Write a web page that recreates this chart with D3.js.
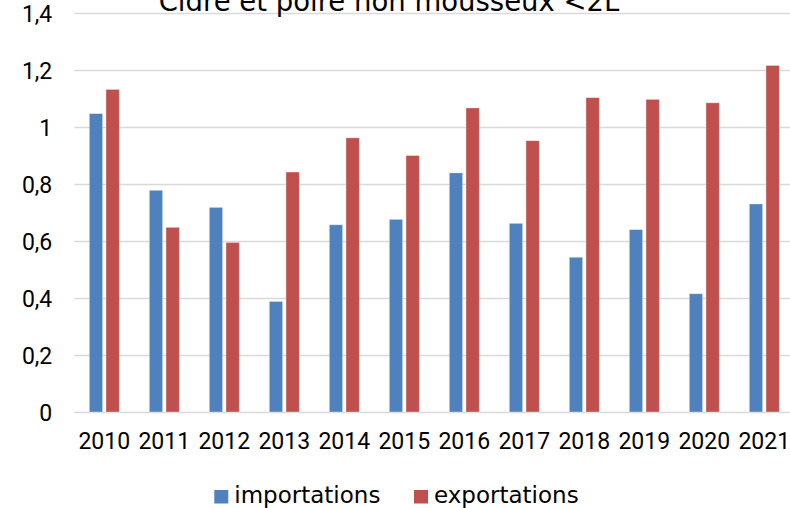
<!DOCTYPE html>
<html>
<head>
<meta charset="utf-8">
<script src="https://cdn.jsdelivr.net/npm/d3@7"></script>
<style>
  body { margin: 0; background: #fff; }
  svg { display: block; }
</style>
</head>
<body>
<div id="vis"></div>
<script>
// values
const years = ['2010', '2011', '2012', '2013', '2014', '2015', '2016', '2017', '2018', '2019', '2020', '2021']
const importations = [1.047, 0.778, 0.718, 0.388, 0.657, 0.676, 0.839, 0.662, 0.543, 0.640, 0.415, 0.730]
const exportations = [1.132, 0.648, 0.595, 0.842, 0.962, 0.900, 1.067, 0.952, 1.103, 1.097, 1.085, 1.216]
const seriesNames = ['importations', 'exportations']
const yTicks = [0, 0.2, 0.4, 0.6, 0.8, 1, 1.2, 1.4]
const title = 'Cidre et poire non mousseux <2L'

const colors = { importations: '#4f81bd', exportations: '#c0504d' }

const W = 790, H = 508
const plot = { left: 74.3, right: 794.3, top: 13, bottom: 412 }

const rows = years.map((y, i) => ({ year: y, importations: importations[i], exportations: exportations[i] }))

const fr = d3.formatLocale({ decimal: ',', thousands: ' ', grouping: [3], currency: ['', ' €'] })
const fmt = fr.format('.1~f')

const svg = d3.select('#vis').append('svg')
  .attr('width', W)
  .attr('height', H)

// scales
const x0 = d3.scaleBand().domain(years).range([plot.left, plot.right]).padding(0)
const x1 = d3.scaleBand().domain(seriesNames).range([15, 45]).paddingInner(0.2)
const y = d3.scaleLinear().domain([0, 1.4]).range([plot.bottom, plot.top])

// y axis with gridlines
const yAxis = svg.append('g')
  .attr('transform', `translate(${plot.left},0)`)
  .call(d3.axisLeft(y).tickValues(yTicks).tickFormat(fmt)
    .tickSize(-(W - plot.left)).tickPadding(22))
yAxis.select('.domain').remove()
yAxis.selectAll('line').attr('stroke', '#d9d9d9').attr('stroke-width', 1.5)
yAxis.selectAll('text')
  .attr('font-family', 'Roboto, sans-serif')
  .attr('font-size', 23)
  .attr('fill', '#000')
  .attr('dy', '0.36em')

// bars
const groups = svg.append('g').selectAll('g')
  .data(rows)
  .join('g')
  .attr('transform', d => `translate(${x0(d.year)},0)`)

groups.selectAll('rect')
  .data(d => seriesNames.map(k => ({ key: k, value: d[k] })))
  .join('rect')
  .attr('x', d => x1(d.key))
  .attr('width', x1.bandwidth())
  .attr('y', d => y(d.value))
  .attr('height', d => y(0) - y(d.value))
  .attr('fill', d => colors[d.key])
  .attr('stroke', 'rgba(255,255,255,0.45)')
  .attr('stroke-width', 0.8)

// x axis
const xAxis = svg.append('g')
  .attr('transform', `translate(0,${plot.bottom})`)
  .call(d3.axisBottom(x0).tickSize(0).tickPadding(21))
xAxis.select('.domain').remove()
xAxis.selectAll('text')
  .attr('font-family', 'Roboto, sans-serif')
  .attr('font-size', 23)
  .attr('fill', '#000')

// title (cut off at the top, as in the original)
svg.append('text')
  .attr('x', 389)
  .attr('y', 10.5)
  .attr('text-anchor', 'middle')
  .attr('font-family', 'DejaVu Sans, sans-serif')
  .attr('font-size', 27.5)
  .attr('fill', '#000')
  .text(title)

// legend
const legendX = [214.3, 414]
const legend = svg.append('g').selectAll('g')
  .data(seriesNames)
  .join('g')
  .attr('transform', (d, i) => `translate(${legendX[i]},490)`)
legend.append('rect')
  .attr('width', 14)
  .attr('height', 13.5)
  .attr('fill', d => colors[d])
legend.append('text')
  .attr('x', 20)
  .attr('y', 13.3)
  .attr('font-family', 'DejaVu Sans, sans-serif')
  .attr('font-size', 23)
  .attr('fill', '#000')
  .text(d => d)
</script>
</body>
</html>
